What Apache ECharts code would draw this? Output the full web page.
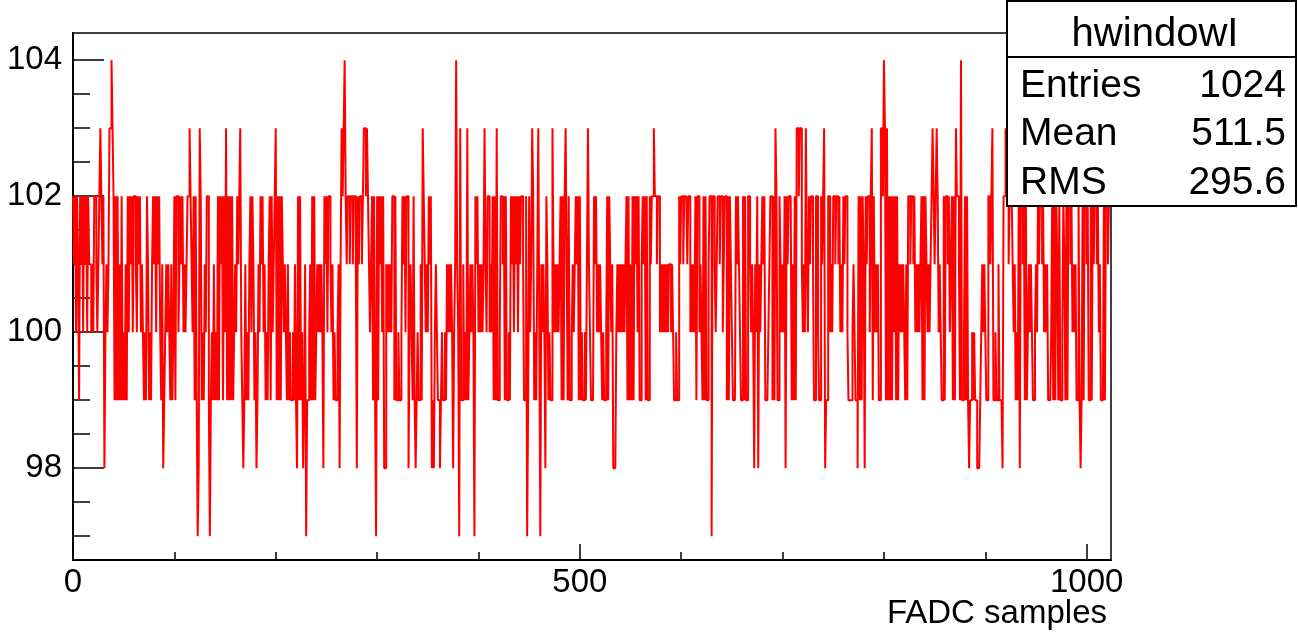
<!DOCTYPE html>
<html><head><meta charset="utf-8">
<script src="https://cdn.jsdelivr.net/npm/echarts@6/dist/echarts.min.js"></script>
<style>html,body{margin:0;padding:0;background:#fff}#c{width:1298px;height:633px}</style>
</head><body><div id="c"></div>
<script>
// Bin contents of histogram "hwindowI" (1024 FADC samples)
const binsA = [102,101,102,100,102,101,99,102,101,102,100,102,101,102,100,102,101,
101,100,101,100,102,102,101,100,101,
102,103,102,101,102,98,100,101,100,
101,103,103,104,103,102,99,102,99,102,
99,101,99,102,99,100,99,101,99,
102,100,102,101,102,100,102,102,101,100,102,101,102,100,
101,100,99,100,99,102,101,99,100,99,101,102,
101,102,100,102,101,102,100,99,101,98,99,100,
101,100,101,100,99,101,99,100,102,99,
102,102,100,101,102,101,102,100,101,100,101,
102,102,103,102,101,100,102,99,102,99,97,98,103,102,99];
const binsB = [100,99,101,100,102,102,99,97,99,100,
99,101,99,100,99,102,99,102,101,102,
99,102,100,103,99,102,99,102,99,102,
99,100,101,100,102,101,102,103,100,99,
98,99,101,99,100,99,101,102,100,102,
101,99,100,98,99,101,100,102,101,102,
100,101,99,100,99,101,102,99,102,100,
101,102,103,99,102,99,102,99,102,101,
100,101,100,99,101,99,100,99,99,100,
99,101,99,98,102,99,102,99,100,98,
99,101,97,99,99,100,101,99,102,99,
102,99,100,101,100,101,100,101,100,98,
102,101,102,100,102,102,101,100];
const binsC = [101,99,100,99,99,100,101,98,101,103,
102,103,104,102,101,102,102,101,102,102,
101,102,102,101,98,102,101,102,102,101,
102,103,103,102,103,102,101,100,101,102,
99,102,99,97,102,99,102,101,102,100,
102,98,98,101,100,101,100,101,100,102,
102,99,102,99,99,100,99,99,100,102,
101,102,100,102,102,98,100,101,100,99,
102,99,98,99,100,99,99,101,99,103,
102,101,100,101,100,102,101,102,98,99,
98,100,101,100,99,99,98,99,100,99,
99,100,99,101,100,101,100,101,100,98,
100,101,104,101,100,97,103,99];
const binsD = [99,101,99,100,99,103,99,100,101,100,
101,100,97,102,101,102,100,101,100,101,
100,101,103,101,100,102,102,100,101,100,
102,99,102,99,103,99,99,100,102,102,
101,102,99,102,99,99,100,99,102,101,
102,100,102,101,102,100,102,101,102,102,
101,99,99,102,97,99,102,100,101,103,
102,99,100,99,101,103,100,97,101,100,
101,100,98,102,101,99,100,99,99,103,
101,100,101,100,101,100,101,102,99,102,
99,102,103,101,99,102,99,99,100,101,
100,101,102,101,102,99,102,99,100,99,
99,100,99,101,103,101,100,99];
const binsE = [99,99,102,101,102,100,101,100,101,100,
99,100,99,99,100,102,99,102,101,100,
101,98,98,98,100,101,100,101,100,101,
100,101,100,101,102,99,102,99,101,99,
102,99,102,101,102,100,102,99,99,101,
102,101,102,99,102,99,99,102,101,102,
102,103,102,102,101,102,102,100,101,100,
101,100,101,100,101,100,101,101,100,101,
100,99,99,100,99,99,102,101,102,102,
101,102,102,102,101,102,102,100,101,100,
101,100,102,99,102,102,100,101,100,99,
102,99,102,99,99,101,102,102,97,102,
102,101,100,101,102,102,101,102];
const binsF = [102,100,101,102,102,99,102,99,102,101,
100,99,99,99,102,101,102,101,100,99,
99,102,99,102,99,99,102,102,101,100,
101,100,98,101,100,102,98,101,100,101,
102,101,102,99,99,99,100,101,102,102,
99,102,99,103,102,99,99,102,101,100,
101,100,102,98,102,101,102,102,102,99,
101,99,102,99,103,103,102,103,103,101,
100,101,100,103,101,100,102,101,102,102,
101,99,99,102,102,100,99,99,102,101,
102,103,98,99,99,102,102,100,101,100,
102,102,101,102,102,101,102,100,101,100,
102,101,102,102,100,99,99,99];
const binsG = [99,100,101,100,99,99,98,102,99,102,
99,102,101,98,102,101,102,102,100,102,
103,99,102,100,101,100,101,99,99,103,
103,102,104,103,99,103,99,102,99,102,
99,102,100,102,99,102,99,101,100,101,
100,101,100,99,101,99,102,102,101,102,
102,101,102,100,101,100,101,100,101,102,
99,102,99,102,101,100,101,100,101,102,
103,102,101,102,103,102,100,101,100,99,
99,102,99,102,102,101,102,100,101,102,
99,102,99,103,102,102,101,99,104,99,
99,100,102,99,102,99,98,99,99,100,
99,100,99,99,98,98,98,99];
const binsH = [100,101,100,101,100,99,99,102,102,101,
102,103,99,99,100,99,99,101,99,99,
99,98,102,102,103,102,102,101,102,102,
102,101,100,101,99,100,99,102,98,102,
102,101,102,99,102,99,100,101,100,101,
100,99,99,100,101,100,102,101,102,102,
101,102,100,101,100,101,99,99,99,100,
102,99,102,99,102,101,99,102,99,99,
100,102,101,99,102,99,102,102,101,102,
100,101,100,101,99,99,102,99,98,99,
102,99,102,102,101,102,99,99,102,99,
102,101,102,102,101,102,100,101,99,99,
99,102,99,102,102,101,102,102];

const xMajorTicks = [0, 500, 1000];
const xMinorTicks = [100, 200, 300, 400, 600, 700, 800, 900];
const yMajorTicks = [98, 100, 102, 104];
const yMinorTicks = [97, 97.5, 98.5, 99, 99.5, 100.5, 101, 101.5, 102.5, 103, 103.5];
const histName = 'hwindowI';
const statNames = ['Entries', 'Mean', 'RMS'];
const statValues = ['1024', '511.5', '295.6'];
const xTitle = 'FADC samples';

const values = [].concat(binsA, binsB, binsC, binsD, binsE, binsF, binsG, binsH);
const nBins = values.length;
const points = values.map((v, i) => [i, v]);
points.push([nBins, values[nBins - 1]]);

const FONT = '"Liberation Sans", Arial, Helvetica, sans-serif';
const chart = echarts.init(document.getElementById('c'), null, {renderer: 'canvas'});

const statGraphics = [];
statGraphics.push({type: 'rect', z: 100, shape: {x: 1007, y: 1, width: 289, height: 205},
  style: {fill: '#fff', stroke: '#000', lineWidth: 2}});
statGraphics.push({type: 'line', z: 101, shape: {x1: 1007, y1: 57, x2: 1297, y2: 57},
  style: {stroke: '#000', lineWidth: 2}});
statGraphics.push({type: 'text', z: 102, x: 1155, y: 35,
  style: {text: histName, font: '40px ' + FONT, fill: '#000', align: 'center', verticalAlign: 'middle'}});
statNames.forEach((n, k) => {
  const yy = 86 + k * 48.5;
  statGraphics.push({type: 'text', z: 102, x: 1020, y: yy,
    style: {text: n, font: '39px ' + FONT, fill: '#000', align: 'left', verticalAlign: 'middle'}});
  statGraphics.push({type: 'text', z: 102, x: 1286, y: yy,
    style: {text: statValues[k], font: '39px ' + FONT, fill: '#000', align: 'right', verticalAlign: 'middle'}});
});
statGraphics.push({type: 'text', z: 102, x: 1107, y: 614,
  style: {text: xTitle, font: '33px ' + FONT, fill: '#000', align: 'right', verticalAlign: 'middle'}});

const plainNum = v => String(v);

chart.setOption({
  animation: false,
  backgroundColor: '#fff',
  grid: {left: 73, right: 187, top: 33, bottom: 73, show: true, borderColor: '#000', borderWidth: 1.5, backgroundColor: 'transparent'},
  xAxis: [{
    type: 'value', min: 0, max: nBins, position: 'bottom',
    axisLine: {show: true, onZero: false, lineStyle: {color: '#000', width: 2}},
    axisTick: {show: true, inside: true, length: 16, customValues: xMajorTicks, lineStyle: {color: '#000', width: 1.5}},
    axisLabel: {show: true, customValues: xMajorTicks, formatter: plainNum, margin: 6, color: '#000', fontSize: 33, fontFamily: FONT},
    splitLine: {show: false}
  }, {
    type: 'value', min: 0, max: nBins, position: 'bottom',
    axisLine: {show: false},
    axisTick: {show: true, inside: true, length: 8, customValues: xMinorTicks, lineStyle: {color: '#000', width: 1.5}},
    axisLabel: {show: false},
    splitLine: {show: false}
  }],
  yAxis: [{
    type: 'value', min: 96.65, max: 104.4, position: 'left',
    axisLine: {show: true, onZero: false, lineStyle: {color: '#000', width: 2}},
    axisTick: {show: true, inside: true, length: 31, customValues: yMajorTicks, lineStyle: {color: '#000', width: 1.5}},
    axisLabel: {show: true, customValues: yMajorTicks, formatter: plainNum, margin: 11, color: '#000', fontSize: 33, fontFamily: FONT},
    splitLine: {show: false}
  }, {
    type: 'value', min: 96.65, max: 104.4, position: 'left',
    axisLine: {show: false},
    axisTick: {show: true, inside: true, length: 17, customValues: yMinorTicks, lineStyle: {color: '#000', width: 1.5}},
    axisLabel: {show: false},
    splitLine: {show: false}
  }],
  series: [{
    type: 'line', xAxisIndex: 0, yAxisIndex: 0, step: 'end', data: points,
    showSymbol: false, symbol: 'none', clip: true,
    lineStyle: {color: '#ff0000', width: 2}, z: 5
  }],
  graphic: statGraphics
});
</script></body></html>
